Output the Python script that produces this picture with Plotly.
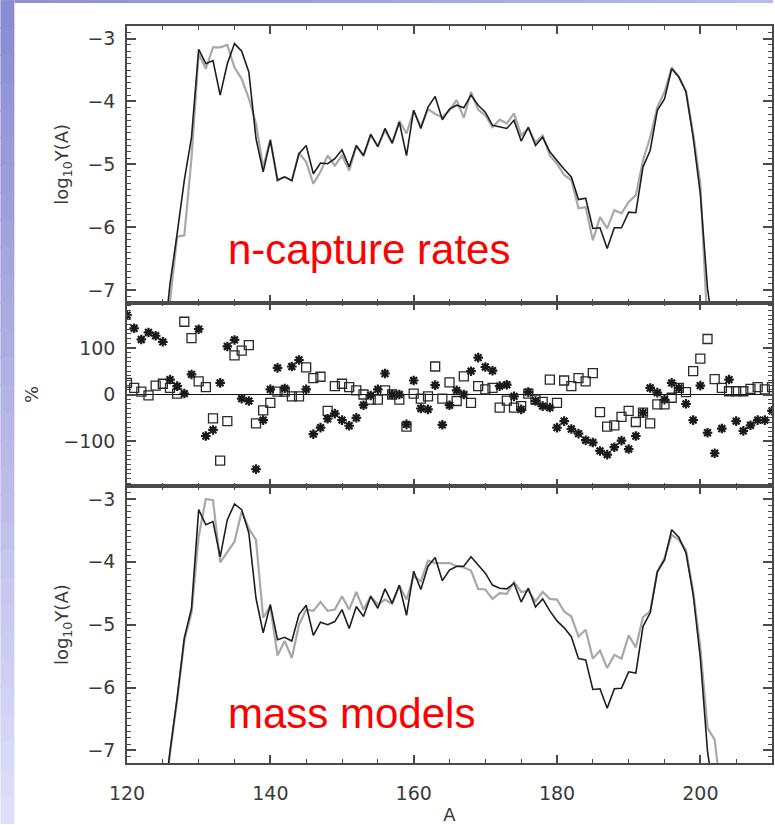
import plotly.graph_objects as go
from plotly.subplots import make_subplots

# ---------------- data ----------------
A_top = list(range(125, 203))
top_black = [-8.0, -6.9, -6.1, -5.25, -4.57, -3.17, -3.40, -3.35, -3.90, -3.40,
             -3.08, -3.20, -3.53, -4.59, -5.12, -4.62, -5.25, -5.20, -5.26, -4.83,
             -4.70, -5.15, -4.98, -4.99, -4.91, -4.77, -5.04, -4.70, -4.86, -4.52,
             -4.72, -4.43, -4.66, -4.33, -4.86, -4.14, -4.43, -4.09, -3.92, -4.29,
             -4.12, -4.06, -4.10, -3.90, -4.06, -4.17, -4.38, -4.41, -4.43, -4.30,
             -4.63, -4.41, -4.70, -4.57, -4.80, -4.94, -5.08, -5.20, -5.56, -5.54,
             -6.02, -6.01, -6.34, -6.01, -6.01, -5.76, -5.77, -5.04, -4.78, -4.14,
             -3.96, -3.48, -3.61, -3.85, -4.57, -5.47, -6.97, -7.8]
A_top_gray = list(range(125, 202))
top_gray = [-8.2, -7.15, -6.15, -6.13, -4.9, -3.24, -3.48, -3.14, -3.14, -3.10,
            -3.46, -3.64, -3.95, -4.35, -5.05, -4.60, -5.26, -5.20, -5.26, -4.82,
            -4.96, -5.31, -5.12, -4.86, -5.02, -4.86, -5.10, -4.71, -4.87, -4.54,
            -4.71, -4.46, -4.67, -4.31, -4.51, -4.15, -4.40, -4.12, -4.20, -4.25,
            -4.14, -3.98, -4.26, -3.85, -4.13, -4.22, -4.41, -4.29, -4.35, -4.19,
            -4.54, -4.43, -4.65, -4.54, -4.86, -4.99, -5.17, -5.25, -5.70, -5.68,
            -6.21, -5.84, -6.02, -5.73, -5.78, -5.60, -5.49, -4.94, -4.57, -4.09,
            -3.85, -3.46, -3.61, -3.83, -4.51, -5.31, -7.6]

A_bot = list(range(125, 203))
bot_black = [-8.0, -7.01, -6.16, -5.21, -4.74, -3.17, -3.41, -3.36, -3.92, -3.33,
             -3.08, -3.17, -3.54, -4.58, -5.13, -4.68, -5.24, -5.20, -5.26, -4.84,
             -4.69, -5.17, -4.96, -5.00, -4.95, -4.76, -5.06, -4.71, -4.87, -4.55,
             -4.74, -4.43, -4.66, -4.37, -4.85, -4.15, -4.44, -4.07, -3.93, -4.30,
             -4.13, -4.07, -4.07, -3.92, -4.05, -4.18, -4.37, -4.42, -4.43, -4.34,
             -4.64, -4.42, -4.72, -4.59, -4.78, -4.94, -5.05, -5.19, -5.54, -5.56,
             -6.03, -6.02, -6.33, -6.02, -6.01, -5.75, -5.77, -5.03, -4.81, -4.16,
             -3.97, -3.49, -3.61, -3.86, -4.52, -5.53, -7.01, -7.8]
A_bot_gray = list(range(125, 204))
bot_gray = [-8.0, -7.05, -6.2, -5.25, -4.81, -3.6, -3.00, -3.02, -4.01, -3.84,
            -3.68, -3.20, -3.47, -3.65, -4.89, -4.71, -5.49, -5.26, -5.53, -5.00,
            -4.76, -4.78, -4.64, -4.78, -4.76, -4.55, -4.76, -4.48, -4.76, -4.55,
            -4.68, -4.60, -4.67, -4.38, -4.60, -4.23, -4.31, -3.98, -4.02, -4.02,
            -4.02, -4.07, -4.09, -4.14, -4.43, -4.44, -4.59, -4.50, -4.51, -4.32,
            -4.48, -4.46, -4.63, -4.48, -4.59, -4.60, -4.79, -4.87, -5.19, -5.08,
            -5.54, -5.41, -5.69, -5.48, -5.54, -5.17, -5.36, -4.88, -4.79, -4.16,
            -3.94, -3.57, -3.65, -3.81, -4.47, -5.37, -6.64, -6.83, -7.8]

A_pct = list(range(120, 211))
pct_star = [170, 142, 118, 133, 126, 113, 32, 18, 2, 43,
            140, -89, -76, 25, 103, 117, -9, -14, -160, -55,
            11, 57, 13, 60, 74, 11, -85, -71, -52, -41,
            -55, -67, -50, -23, -2, 11, 45, 0, 0, -64,
            30, -30, -32, 20, -65, -23, 9, 0, 50, 79,
            59, 51, 18, 21, -4, -32, 5, -14, -25, -28,
            -71, -57, -74, -84, -98, -103, -121, -129, -113, -99,
            -117, -89, -39, 14, 4, -11, 25, 14, -20, -55,
            19, -82, -126, -73, 32, -57, -78, -66, -55, -55,
            -35]
pct_square = [25, 14, 6, -2, 19, 23, 14, 2, 156, 121,
              28, 16, -51, -142, -57, 84, 94, 106, -62, -34,
              -18, 6, 6, -4, -4, 58, 35, 38, -35, 18,
              23, 16, 9, 0, -11, -11, 9, 0, -11, -69,
              2, -9, -4, 60, -9, 26, -14, 39, -18, 18,
              11, 14, -28, -13, -28, -25, 2, -11, -16, 32,
              -18, 30, 18, 35, 28, 46, -38, -69, -66, -48,
              -35, -59, -39, -62, -21, -21, -7, 14, 5, 50,
              77, 119, 33, 14, 7, 7, 7, 12, 16, 11,
              16]

x_ticks = [120, 140, 160, 180, 200]
label_top = "n-capture rates"
label_bot = "mass models"

# ---------------- figure ----------------
fig = make_subplots(rows=3, cols=1, shared_xaxes=True, vertical_spacing=0,
                    row_heights=[277, 184, 277])

BLACK = "#1e1e1e"
GRAY = "#a8a8a8"

fig.add_trace(go.Scatter(x=A_top_gray, y=top_gray, mode="lines",
                         line=dict(color=GRAY, width=2.2)), row=1, col=1)
fig.add_trace(go.Scatter(x=A_top, y=top_black, mode="lines",
                         line=dict(color=BLACK, width=1.6)), row=1, col=1)

fig.add_trace(go.Scatter(x=A_pct, y=pct_square, mode="markers",
                         marker=dict(symbol="square-open", size=9, color="#2a2a2a",
                                     line=dict(color="#2a2a2a", width=1.3))),
              row=2, col=1)
fig.add_trace(go.Scatter(x=A_pct, y=pct_star, mode="markers",
                         marker=dict(symbol="asterisk-open", size=8, color="#1a1a1a",
                                     line=dict(color="#1a1a1a", width=2.2))),
              row=2, col=1)

fig.add_trace(go.Scatter(x=A_bot_gray, y=bot_gray, mode="lines",
                         line=dict(color=GRAY, width=2.2)), row=3, col=1)
fig.add_trace(go.Scatter(x=A_bot, y=bot_black, mode="lines",
                         line=dict(color=BLACK, width=1.6)), row=3, col=1)

AX = "#4a4a4a"
TICKFONT = dict(family="DejaVu Sans", size=19, color="#3a3a3a")
TITLEFONT = dict(family="DejaVu Sans", size=18, color="#3a3a3a")

for r in (1, 2, 3):
    fig.update_xaxes(row=r, col=1, range=[120, 210], tickvals=x_ticks,
                     showline=True, linecolor=AX, linewidth=1.5, mirror="allticks",
                     ticks="inside", ticklen=8, tickwidth=1.5, tickcolor=AX,
                     showgrid=False, zeroline=False,
                     minor=dict(dtick=5, tick0=120, ticks="inside", ticklen=4,
                                tickwidth=1.3, tickcolor=AX, showgrid=False),
                     showticklabels=(r == 3), tickfont=TICKFONT,
                     ticklabelstandoff=12)

for r in (1, 3):
    fig.update_yaxes(row=r, col=1, range=[-7.2, -2.8], dtick=1, tick0=0,
                     showline=True, linecolor=AX, linewidth=1.5, mirror="allticks",
                     ticks="inside", ticklen=9, tickwidth=1.5, tickcolor=AX,
                     showgrid=False, zeroline=False,
                     minor=dict(dtick=0.1, tick0=0, ticks="inside", ticklen=4,
                                tickwidth=1.2, tickcolor=AX, showgrid=False),
                     tickfont=TICKFONT, ticklabelstandoff=6,
                     title=dict(text="log<sub>10</sub>Y(A)", standoff=14, font=TITLEFONT))

fig.update_yaxes(row=2, col=1, range=[-197, 197], dtick=100, tick0=0,
                 showline=True, linecolor=AX, linewidth=1.5, mirror="allticks",
                 ticks="inside", ticklen=9, tickwidth=1.5, tickcolor=AX,
                 showgrid=False, zeroline=True, zerolinecolor="#111111", zerolinewidth=1.3,
                 minor=dict(dtick=10, tick0=0, ticks="inside", ticklen=4,
                            tickwidth=1.2, tickcolor=AX, showgrid=False),
                 tickfont=TICKFONT, ticklabelstandoff=6,
                 title=dict(text="%", standoff=20, font=TITLEFONT))

fig.update_xaxes(row=3, col=1, title=dict(text="A", standoff=8, font=TITLEFONT))

# red labels
fig.add_annotation(x=0.153, xref="paper", xanchor="left",
                   y=-6.36, yref="y", yanchor="middle", text=label_top,
                   showarrow=False,
                   font=dict(family="Liberation Sans, Arial", size=42, color="#ff0000"))
fig.add_annotation(x=0.153, xref="paper", xanchor="left",
                   y=-6.41, yref="y3", yanchor="middle", text=label_bot,
                   showarrow=False,
                   font=dict(family="Liberation Sans, Arial", size=42, color="#ff0000"))

# lavender slide border (left strip and top strip), drawn as shapes in paper units
L, PW, T, PH = 127, 647, 26, 738
def px_x(p):
    return (p - L) / PW
def px_y(p):
    return (T + PH - p) / PH

n = 30
for i in range(n):
    y0 = 825 * i / n
    y1 = min(825, 825 * (i + 1) / n + 1.5)
    f = i / (n - 1)
    r_ = int(140 + (222 - 140) * f)
    g_ = int(140 + (222 - 140) * f)
    b_ = int(212 + (250 - 212) * f)
    col = f"rgb({r_},{g_},{b_})"
    fig.add_shape(type="rect", xref="paper", yref="paper",
                  x0=px_x(0), x1=px_x(14), y0=px_y(y0), y1=px_y(y1),
                  line=dict(width=0), fillcolor=col, layer="below")
m = 20
for i in range(m):
    x0 = 14 + (775 - 14) * i / m
    x1 = min(775, 14 + (775 - 14) * (i + 1) / m + 1.5)
    f = i / (m - 1)
    r_ = int(145 + (185 - 145) * f)
    g_ = int(145 + (185 - 145) * f)
    b_ = int(214 + (236 - 214) * f)
    col = f"rgb({r_},{g_},{b_})"
    fig.add_shape(type="rect", xref="paper", yref="paper",
                  x0=px_x(x0), x1=px_x(x1), y0=px_y(0), y1=px_y(3),
                  line=dict(width=0), fillcolor=col, layer="below")

fig.update_layout(width=775, height=825, margin=dict(l=L, r=1, t=T, b=61),
                  paper_bgcolor="white", plot_bgcolor="white", showlegend=False)

fig.write_html("out.html")
